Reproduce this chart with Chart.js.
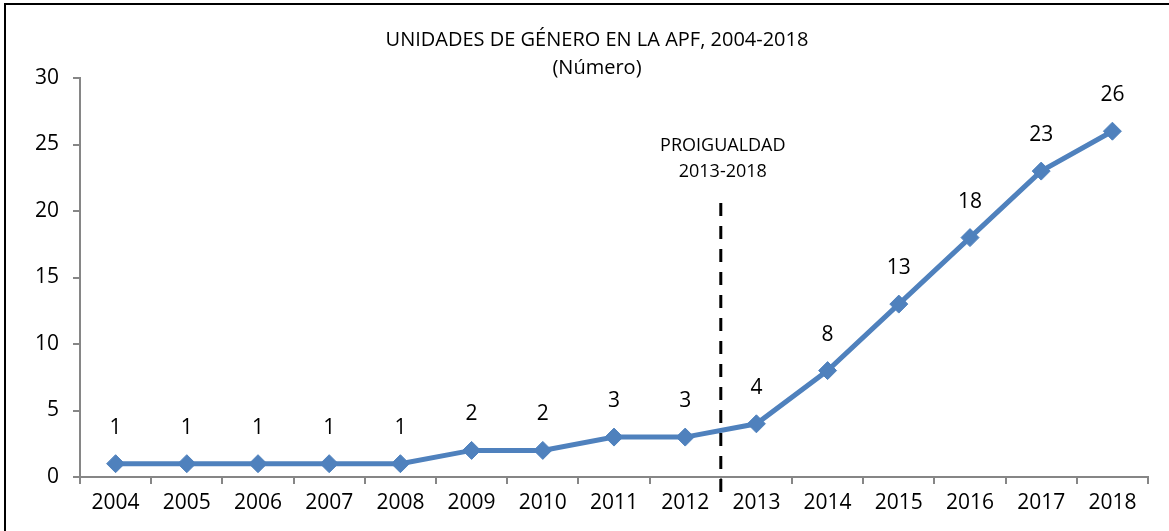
<!DOCTYPE html>
<html>
<head>
<meta charset="utf-8">
<script src="https://cdn.jsdelivr.net/npm/chart.js@4/dist/chart.umd.min.js"></script>
<style>
  html, body { margin: 0; padding: 0; background: #fff; overflow: hidden; }
  #marc { position: absolute; left: 4px; top: 3px; width: 1180px; height: 560px; border: 2px solid #000; box-sizing: border-box; }
  #wrap { position: absolute; left: 0; top: 0; width: 1169px; height: 531px; }
</style>
</head>
<body>
<div id="marc"></div>
<div id="wrap"><canvas id="grafic"></canvas></div>
<script>
// dades del gràfic
const anys = ['2004', '2005', '2006', '2007', '2008', '2009', '2010', '2011', '2012', '2013', '2014', '2015', '2016', '2017', '2018'];
const unitats = [1, 1, 1, 1, 1, 2, 2, 3, 3, 4, 8, 13, 18, 23, 26];
const titol = ['UNIDADES DE GÉNERO EN LA APF, 2004-2018', '(Número)'];
const etiquetaProigualdad = ['PROIGUALDAD', '2013-2018'];
const inici = 8.5;   // entre 2012 i 2013
const dalt = 20.6;   // fins on puja la línia discontínua

const font = "'Open Sans', 'Noto Sans', sans-serif";
const blau = '#4F81BD';
const gris = '#868686';

// etiquetes, títol i línia discontínua
const extres = {
  id: 'extres',
  afterDatasetsDraw(chart) {
    const ctx = chart.ctx;
    const x = chart.scales.x;
    const y = chart.scales.y;
    ctx.save();

    // línia PROIGUALDAD
    let px = x.getPixelForValue(inici);
    ctx.strokeStyle = '#000';
    ctx.lineWidth = 3;
    ctx.setLineDash([13, 10]);
    ctx.beginPath();
    ctx.moveTo(px, y.getPixelForValue(dalt));
    ctx.lineTo(px, y.bottom + 20);
    ctx.stroke();
    ctx.setLineDash([]);

    ctx.fillStyle = '#000';
    ctx.textAlign = 'center';
    ctx.textBaseline = 'middle';
    ctx.font = '18px ' + font;
    ctx.fillText(etiquetaProigualdad[0], px + 2, 146);
    ctx.fillText(etiquetaProigualdad[1], px + 2, 172);

    // títol
    ctx.font = '20px ' + font;
    ctx.fillText(titol[0], 597, 40);
    ctx.fillText(titol[1], 597, 68);

    // valors sobre els punts
    ctx.font = '21px ' + font;
    chart.getDatasetMeta(0).data.forEach((p, i) => {
      ctx.fillText(unitats[i], p.x, p.y - 36);
    });
    ctx.restore();
  }
};

new Chart(document.getElementById('grafic'), {
  type: 'line',
  data: {
    labels: anys,
    datasets: [{
      data: unitats,
      borderColor: blau,
      backgroundColor: blau,
      borderWidth: 5,
      pointStyle: 'rectRot',
      pointRadius: 9,
      pointBorderWidth: 1,
      pointBackgroundColor: blau,
      pointBorderColor: blau,
      tension: 0
    }]
  },
  options: {
    responsive: true,
    maintainAspectRatio: false,
    animation: false,
    layout: { padding: { left: 0, top: 78, right: 21, bottom: 0 } },
    plugins: { legend: { display: false }, title: { display: false }, tooltip: { enabled: false } },
    scales: {
      x: {
        offset: true,
        grid: { offset: true, drawOnChartArea: false, drawTicks: true, tickLength: 7, color: gris, lineWidth: 2 },
        border: { display: true, color: gris, width: 2 },
        ticks: { color: '#000', font: { family: font, size: 21 }, padding: 6, maxRotation: 0, autoSkip: false },
        afterFit(s) { s.height = 54; }
      },
      y: {
        min: 0,
        max: 30,
        grid: { drawOnChartArea: false, drawTicks: true, tickLength: 7, color: gris, lineWidth: 2 },
        border: { display: true, color: gris, width: 2 },
        ticks: { stepSize: 5, color: '#000', font: { family: font, size: 21 }, padding: 14 },
        afterFit(s) { s.width = 80; }
      }
    }
  },
  plugins: [extres]
});
</script>
</body>
</html>
